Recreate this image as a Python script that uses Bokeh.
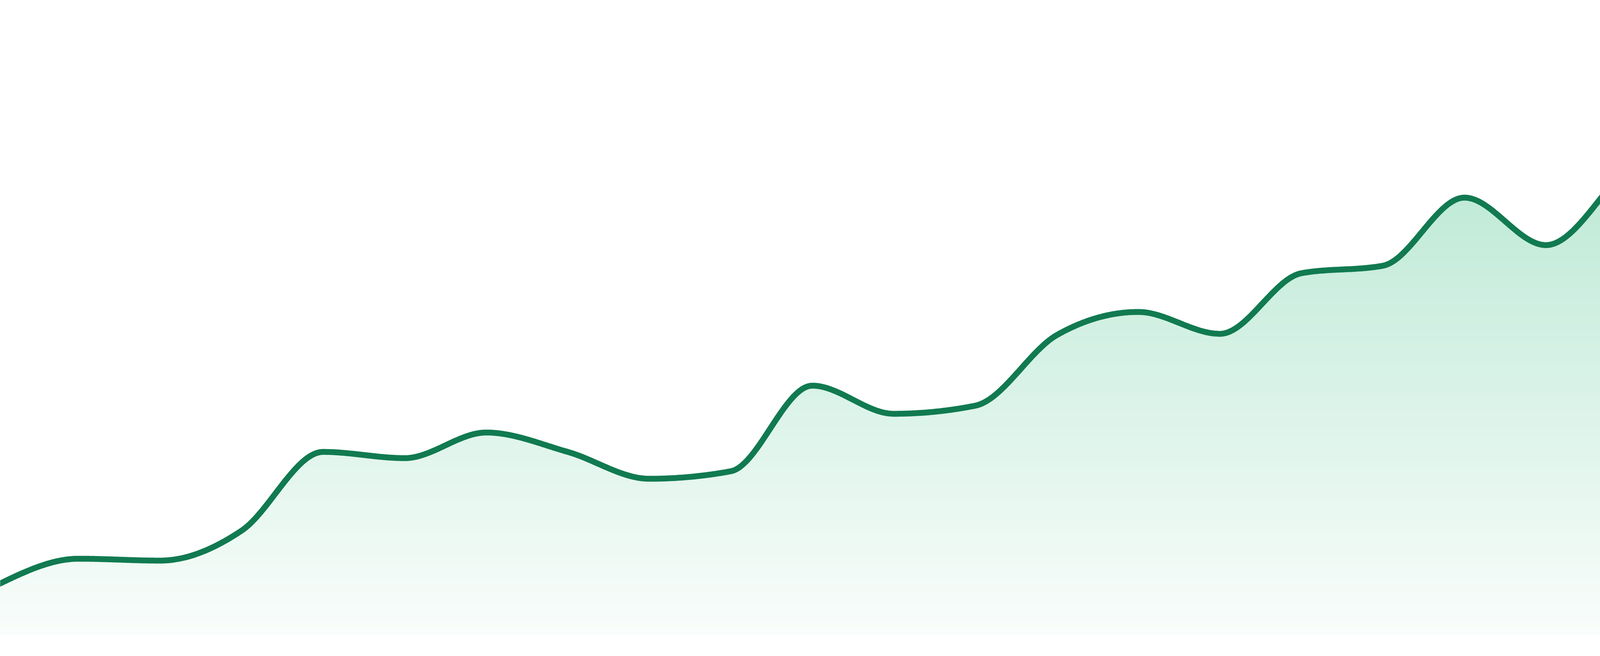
import numpy as np
from bokeh.plotting import figure
from bokeh.models import Range1d, ColumnDataSource
from bokeh.embed import file_html
from bokeh.resources import INLINE

# ---- data ----
points = list(range(24))
values = [7.9, 12.1, 11.8, 16.6, 29.2, 28.2, 32.3, 29.2, 24.9, 26.1,
          39.8, 35.3, 36.6, 47.9, 51.6, 48.1, 57.8, 59.0, 69.9, 62.3,
          74.6, 85.2, 77.4, 89.5]

LINE_COLOR = "#117a50"
GRAD_TOP = (177, 229, 207)
GRAD_BOTTOM = (249, 253, 251)

W, H = 4784, 1664
PX_PER_X = 4800 / (len(points) - 1)
PX_PER_V = 16.0
BASE_PX = 1632.0


def monotone_curve(x, y, samples=48):
    x = np.asarray(x, float)
    y = np.asarray(y, float)
    n = len(x)
    sgn = lambda v: -1.0 if v < 0 else 1.0
    t = np.zeros(n)
    for i in range(1, n - 1):
        h0 = x[i] - x[i - 1]
        h1 = x[i + 1] - x[i]
        s0 = (y[i] - y[i - 1]) / h0
        s1 = (y[i + 1] - y[i]) / h1
        p = (s0 * h1 + s1 * h0) / (h0 + h1)
        t[i] = (sgn(s0) + sgn(s1)) * min(abs(s0), abs(s1), 0.5 * abs(p))
    h = x[1] - x[0]
    t[0] = (3 * (y[1] - y[0]) / h - t[1]) / 2
    h = x[-1] - x[-2]
    t[-1] = (3 * (y[-1] - y[-2]) / h - t[-2]) / 2
    xs, ys = [], []
    u = np.linspace(0, 1, samples)
    for i in range(n - 1):
        dx = x[i + 1] - x[i]
        p0 = (x[i], y[i])
        p1 = (x[i] + dx / 3, y[i] + dx * t[i] / 3)
        p2 = (x[i + 1] - dx / 3, y[i + 1] - dx * t[i + 1] / 3)
        p3 = (x[i + 1], y[i + 1])
        uu = u if i == 0 else u[1:]
        a = (1 - uu) ** 3
        b = 3 * (1 - uu) ** 2 * uu
        c = 3 * (1 - uu) * uu ** 2
        d = uu ** 3
        xs.extend(a * p0[0] + b * p1[0] + c * p2[0] + d * p3[0])
        ys.extend(a * p0[1] + b * p1[1] + c * p2[1] + d * p3[1])
    return np.array(xs), np.array(ys)


cx, cy = monotone_curve(points, values)

x_start = 8 / PX_PER_X
x_end = (8 + W) / PX_PER_X
y_end = (BASE_PX - 8) / PX_PER_V
y_start = (BASE_PX - 8 - H) / PX_PER_V

p = figure(width=W, height=H, output_backend="svg", toolbar_location=None,
           x_range=Range1d(x_start, x_end), y_range=Range1d(y_start, y_end),
           x_axis_location=None, y_axis_location=None,
           min_border=0, background_fill_color="white", border_fill_color="white")
p.grid.visible = False
p.outline_line_color = None

# gradient fill, approximated by stacked areas
v_top = float(np.max(cy))
v_bottom = 0.0
N = 90
levels = [v_top - (v_top - v_bottom) * i / N for i in range(N + 1)]
for i in range(N):
    hi = levels[i] if i > 0 else v_top + 10
    lo = levels[i + 1]
    mid = (min(hi, v_top) + lo) / 2
    frac = (v_top - mid) / (v_top - v_bottom)
    frac = min(max(frac, 0), 1)
    col = tuple(int(round(GRAD_TOP[k] + (GRAD_BOTTOM[k] - GRAD_TOP[k]) * frac)) for k in range(3))
    src = ColumnDataSource(dict(x=cx, y1=np.zeros_like(cy), y2=np.minimum(cy, hi)))
    p.varea(x="x", y1="y1", y2="y2", source=src, fill_color="#%02x%02x%02x" % col)

p.line(cx, cy, line_width=15, line_color=LINE_COLOR, line_join="round", line_cap="round")

open("out.html", "w").write(file_html(p, INLINE))
